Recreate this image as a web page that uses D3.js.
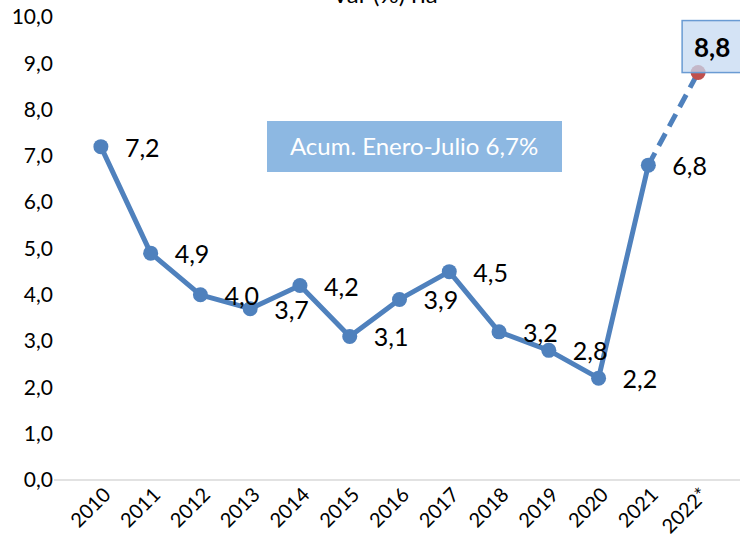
<!DOCTYPE html>
<html>
<head>
<meta charset="utf-8">
<script src="https://cdn.jsdelivr.net/npm/d3@7"></script>
<style>
	body { margin: 0; background: #fff; }
	svg { display: block; font-family: Lato, "Open Sans", sans-serif; }
</style>
</head>
<body>
<svg id="svg-port" width="740" height="540"></svg>
<script>
var years = ['2010', '2011', '2012', '2013', '2014', '2015', '2016', '2017', '2018', '2019', '2020', '2021', '2022*'];
var values = [7.2, 4.9, 4.0, 3.7, 4.2, 3.1, 3.9, 4.5, 3.2, 2.8, 2.2, 6.8, 8.8];
var yTicks = [0, 1, 2, 3, 4, 5, 6, 7, 8, 9, 10];
var titleText = 'Var (%) ria';
var noteText = 'Acum. Enero-Julio 6,7%';

var blue = '#4F81BD';
var red = '#C0504D';
var fmt = function (v) { return v.toFixed(1).replace('.', ','); };

var svg = d3.select('#svg-port');
var plotLeft = 76, plotRight = 723, plotTop = 17, plotBottom = 480;

var xScale = d3.scaleBand().domain(years).range([plotLeft, plotRight]);
var yScale = d3.scaleLinear().domain([0, 10]).range([plotBottom, plotTop]);
var cx = function (i) { return xScale(years[i]) + xScale.bandwidth() / 2; };

// title (cut at top edge)
svg.append('text').attr('x', 385).attr('y', 3).attr('text-anchor', 'middle')
	.style('font-size', '24px').style('fill', '#000').text(titleText);

// baseline gridline
svg.append('line').attr('x1', 54).attr('x2', 740)
	.attr('y1', yScale(0)).attr('y2', yScale(0))
	.style('stroke', '#D9D9D9').style('stroke-width', 1.5);

// y axis labels
var yAxis = d3.axisLeft(yScale).tickValues(yTicks).tickFormat(fmt).tickSize(0).tickPadding(0);
var yg = svg.append('g').attr('transform', 'translate(53,0)').call(yAxis);
yg.select('.domain').remove();
yg.selectAll('text').style('font-size', '21px').style('fill', '#000').style('font-family', 'Lato, "Open Sans", sans-serif');

// x axis labels
var xg = svg.append('g').attr('transform', 'translate(0,' + plotBottom + ')')
	.call(d3.axisBottom(xScale).tickSize(0).tickPadding(0));
xg.select('.domain').remove();
xg.selectAll('text')
	.attr('text-anchor', 'end')
	.attr('dy', 0)
	.attr('transform', 'translate(11,16) rotate(-45)')
	.style('font-size', '20px').style('fill', '#000').style('font-family', 'Lato, "Open Sans", sans-serif');

// note box
svg.append('rect').attr('x', 267).attr('y', 121).attr('width', 295).attr('height', 51)
	.style('fill', '#8DB8E2');
svg.append('text').attr('x', 414).attr('y', 155).attr('text-anchor', 'middle')
	.style('font-size', '24px').style('fill', '#fff').text(noteText);

// solid line 2010-2021
var n = values.length;
var line = d3.line().x(function (d, i) { return cx(i); }).y(function (d) { return yScale(d); });
svg.append('path').datum(values.slice(0, n - 1)).attr('d', line)
	.style('fill', 'none').style('stroke', blue).style('stroke-width', 5).style('stroke-linejoin', 'round');

// dashed projection 2021-2022
svg.append('line')
	.attr('x1', cx(n - 2)).attr('y1', yScale(values[n - 2]))
	.attr('x2', cx(n - 1)).attr('y2', yScale(values[n - 1]))
	.style('stroke', blue).style('stroke-width', 5).style('stroke-dasharray', '14,8');

// markers
svg.selectAll('circle.pt').data(values).enter().append('circle')
	.attr('class', 'pt')
	.attr('cx', function (d, i) { return cx(i); })
	.attr('cy', function (d) { return yScale(d); })
	.attr('r', 7.5)
	.style('fill', function (d, i) { return i === n - 1 ? red : blue; });

// data labels
svg.selectAll('text.lbl').data(values.slice(0, n - 1)).enter().append('text')
	.attr('class', 'lbl')
	.attr('x', function (d, i) { return cx(i) + 24; })
	.attr('y', function (d) { return yScale(d) + 10; })
	.style('font-size', '25px').style('fill', '#000')
	.text(fmt);

// highlighted 2022 label box
var bx = cx(n - 1) - 16, by = yScale(values[n - 1]) - 52;
svg.append('rect').attr('x', bx).attr('y', by).attr('width', 70).attr('height', 52)
	.style('fill', '#C6D9F1').style('fill-opacity', 0.75)
	.style('stroke', '#6A9BD3').style('stroke-width', 1.5);
svg.append('text').attr('x', bx + 30).attr('y', by + 36).attr('text-anchor', 'middle')
	.style('font-size', '26px').style('font-weight', 'bold').style('fill', '#000')
	.text(fmt(values[n - 1]));
</script>
</body>
</html>
